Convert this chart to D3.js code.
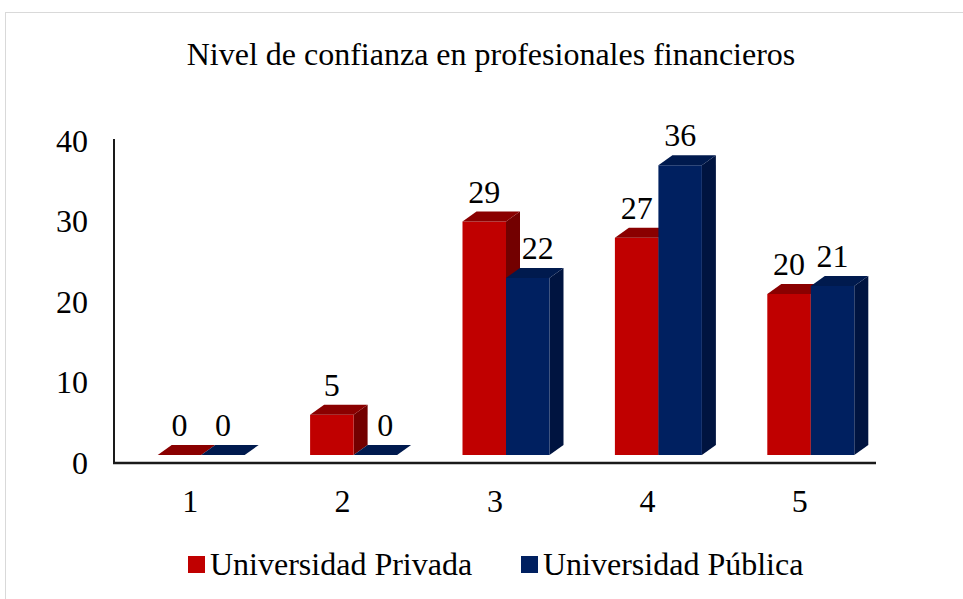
<!DOCTYPE html>
<html>
<head>
<meta charset="utf-8">
<script src="https://cdn.jsdelivr.net/npm/d3@7"></script>
<style>
  body { margin: 0; background: #fff; }
  text { font-family: "Liberation Serif", "Times New Roman", serif; fill: #000; }
</style>
</head>
<body>
<svg id="chart"></svg>
<script>
// data
const categories = ["1", "2", "3", "4", "5"];
const seriesNames = ["Universidad Privada", "Universidad Pública"];
const privada = [0, 5, 29, 27, 20];
const publica = [0, 0, 22, 36, 21];
const yTicks = [0, 10, 20, 30, 40];
const chartTitle = "Nivel de confianza en profesionales financieros";

const width = 963, height = 599;
const margin = { top: 141, left: 114, right: 87, bottom: 136 };
const fontSize = "32px";

// colours per series: front, top, side
const palette = {
  "Universidad Privada": { front: "#c00000", top: "#8a0000", side: "#730000" },
  "Universidad Pública": { front: "#002060", top: "#001a4e", side: "#001440" }
};

// 3D offsets
const depthX = 14, depthY = -10;
const floorX = 11, floorY = -8;

const svg = d3.select("#chart")
    .attr("width", width)
    .attr("height", height);

// outer border
svg.append("rect")
    .attr("x", 5.5).attr("y", 12.5)
    .attr("width", width - 5).attr("height", height)
    .attr("fill", "none")
    .attr("stroke", "#d9d9d9")
    .attr("stroke-width", 1);

// title
svg.append("text")
    .attr("x", 491)
    .attr("y", 65)
    .attr("text-anchor", "middle")
    .style("font-size", fontSize)
    .text(chartTitle);

const x0 = d3.scaleBand()
    .domain(categories)
    .range([margin.left, width - margin.right]);

const x1 = d3.scaleBand()
    .domain(seriesNames)
    .range([-43.5, 43.5]);

const y = d3.scaleLinear()
    .domain([0, 40])
    .range([height - margin.bottom, margin.top]);

// y axis labels
const yAxis = svg.append("g")
    .attr("transform", `translate(${margin.left},0)`)
    .call(d3.axisLeft(y).tickValues(yTicks).tickSize(0).tickPadding(26));
yAxis.select(".domain").remove();
yAxis.selectAll("text")
    .style("font-size", fontSize)
    .attr("font-family", null);

// axis lines
svg.append("line")
    .attr("x1", margin.left).attr("x2", margin.left)
    .attr("y1", y(40) - 2).attr("y2", y(0))
    .attr("stroke", "#1a1a1a").attr("stroke-width", 2);

// rows of bars
const rows = categories.map((c, i) => ({
  cat: c,
  bars: [
    { key: seriesNames[0], value: privada[i] },
    { key: seriesNames[1], value: publica[i] }
  ]
}));

const groups = svg.append("g").selectAll("g")
    .data(rows)
    .join("g")
    .attr("transform", d => `translate(${x0(d.cat) + x0.bandwidth() / 2 + floorX},${floorY})`);

const bw = x1.bandwidth();

function barFaces(d) {
  const xl = x1(d.key), xr = xl + bw;
  const yb = y(0), yt = y(d.value);
  return {
    front: [[xl, yt], [xr, yt], [xr, yb], [xl, yb]],
    top: [[xl, yt], [xl + depthX, yt + depthY], [xr + depthX, yt + depthY], [xr, yt]],
    side: [[xr, yt], [xr + depthX, yt + depthY], [xr + depthX, yb + depthY], [xr, yb]]
  };
}

const line = d3.line();

const bars = groups.selectAll("g.bar")
    .data(d => d.bars)
    .join("g")
    .attr("class", "bar");

bars.append("path")
    .attr("d", d => line(barFaces(d).side))
    .attr("fill", d => palette[d.key].side);
bars.append("path")
    .attr("d", d => line(barFaces(d).front))
    .attr("fill", d => palette[d.key].front);
bars.append("path")
    .attr("d", d => line(barFaces(d).top))
    .attr("fill", d => palette[d.key].top);

// value labels
groups.selectAll("text.val")
    .data(d => d.bars.map(b => ({ ...b, other: d.bars[0].value })))
    .join("text")
    .attr("class", "val")
    .attr("x", d => {
      let cx = x1(d.key) + bw / 2;
      if (d.key === seriesNames[1] && d.other > d.value) cx += 10;
      return cx;
    })
    .attr("y", d => y(d.value) - 19)
    .attr("text-anchor", "middle")
    .style("font-size", fontSize)
    .text(d => d.value);

// x axis line
svg.append("line")
    .attr("x1", margin.left - 1).attr("x2", width - margin.right)
    .attr("y1", y(0)).attr("y2", y(0))
    .attr("stroke", "#1a1a1a").attr("stroke-width", 2.5);

// x axis labels
const xAxis = svg.append("g")
    .attr("transform", `translate(0,${y(0)})`)
    .call(d3.axisBottom(x0).tickSize(0).tickPadding(26));
xAxis.select(".domain").remove();
xAxis.selectAll("text")
    .style("font-size", fontSize)
    .attr("font-family", null);

// legend
const legendX = [188, 521];
const legend = svg.append("g").selectAll("g")
    .data(seriesNames)
    .join("g")
    .attr("transform", (d, i) => `translate(${legendX[i]},556)`);
legend.append("rect")
    .attr("width", 17).attr("height", 17)
    .attr("fill", d => palette[d].front);
legend.append("text")
    .attr("x", 22).attr("y", 19)
    .style("font-size", fontSize)
    .text(d => d);
</script>
</body>
</html>
